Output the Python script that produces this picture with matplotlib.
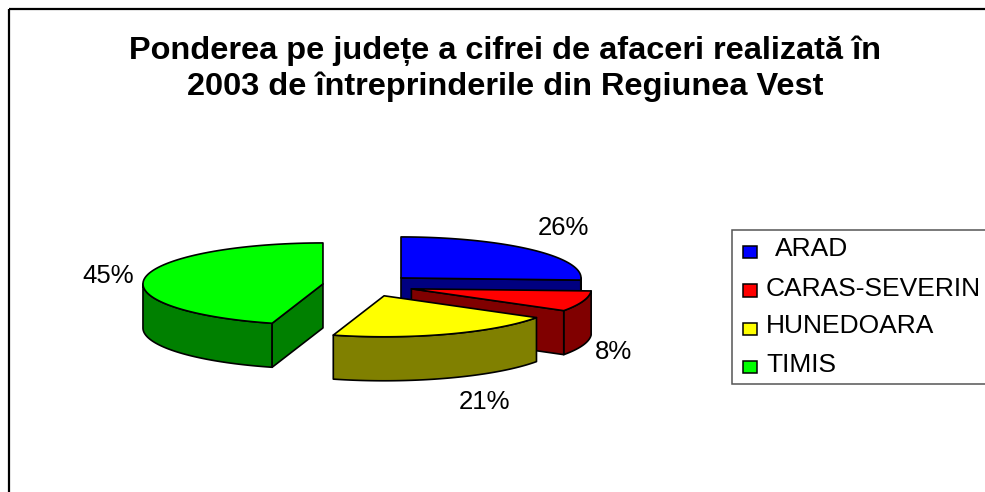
import numpy as np
import matplotlib
matplotlib.use('Agg')
import matplotlib.pyplot as plt
from matplotlib.patches import Polygon, Rectangle

plt.rcParams['font.family'] = ['Liberation Sans', 'DejaVu Sans']

title_lines = ['Ponderea pe județe a cifrei de afaceri realizată în',
               '2003 de întreprinderile din Regiunea Vest']
counties = ['ARAD', 'CARAS-SEVERIN', 'HUNEDOARA', 'TIMIS']
shares = [25.8, 8.1, 20.6, 45.4]
top_colors = ['#0000ff', '#ff0000', '#ffff00', '#00ff00']
side_colors = ['#000080', '#800000', '#808000', '#008000']

# pie geometry, in pixels of the picture
center = (368, 285.5)
rx, ry = 180, 41
depth = 44
explode_x, explode_y = 45.5, 11

label_pos = [(563, 228), (614, 352), (484, 402), (108, 276)]
legend_y = [251.5, 290, 328.5, 366.5]
legend_text_y = [249, 288.5, 326, 365]
legend_text_x = [775, 766, 766, 766]
draw_order = [0, 1, 3, 2]

LW = 1.2


def arc_points(cx, cy, a0, a1):
    # angles in degrees, clockwise from 12 o'clock
    t = np.deg2rad(np.linspace(a0, a1, 80))
    return np.column_stack([cx + rx * np.sin(t), cy - ry * np.cos(t)])


def draw_slice(ax, start, stop, top_c, side_c):
    mid = np.deg2rad((start + stop) / 2)
    cx = center[0] + explode_x * np.sin(mid)
    cy = center[1] - explode_y * np.cos(mid)
    down = np.array([0, depth])
    apex = np.array([cx, cy])

    # outer wall, only the part facing the viewer
    a0, a1 = max(start, 90), min(stop, 270)
    if a1 > a0:
        arc = arc_points(cx, cy, a0, a1)
        wall = np.vstack([arc, arc[::-1] + down])
        ax.add_patch(Polygon(wall, closed=True, fc=side_c, ec='black', lw=LW, joinstyle='round'))

    # cut faces
    for ang, visible in [(stop, stop < 180), (start, start > 180)]:
        if visible:
            p = arc_points(cx, cy, ang, ang)[0]
            face = np.array([apex, p, p + down, apex + down])
            ax.add_patch(Polygon(face, closed=True, fc=side_c, ec='black', lw=LW, joinstyle='round'))

    top = np.vstack([apex, arc_points(cx, cy, start, stop)])
    ax.add_patch(Polygon(top, closed=True, fc=top_c, ec='black', lw=LW, joinstyle='round'))


fig = plt.figure(figsize=(9.85, 4.92), dpi=100)
ax = fig.add_axes([0, 0, 1, 1])
ax.set_xlim(0, 985)
ax.set_ylim(492, 0)
ax.axis('off')

# outer frame, only top and left show
ax.plot([9, 985], [9, 9], color='black', lw=1.6, solid_capstyle='butt')
ax.plot([9, 9], [9, 492], color='black', lw=1.6, solid_capstyle='butt')

ax.text(505, 51, title_lines[0], ha='center', va='center', fontsize=23.4, fontweight='bold')
ax.text(505, 87, title_lines[1], ha='center', va='center', fontsize=23.4, fontweight='bold')

edges = np.concatenate([[0], np.cumsum(shares)]) / np.sum(shares) * 360
for i in draw_order:
    draw_slice(ax, edges[i], edges[i + 1], top_colors[i], side_colors[i])

for share, (x, y) in zip(shares, label_pos):
    ax.text(x, y, f'{share:.0f}%', ha='center', va='center', fontsize=18.5)

# legend runs off the right edge of the picture
ax.add_patch(Rectangle((732, 230), 270, 154, fc='white', ec='#555555', lw=1.1))
for name, c, y, ty, tx in zip(counties, top_colors, legend_y, legend_text_y, legend_text_x):
    ax.add_patch(Rectangle((742.5, y - 6), 14, 12.5, fc=c, ec='black', lw=1.1))
    ax.text(tx, ty, name, ha='left', va='center', fontsize=19)

fig.savefig('out.png', dpi=100)
